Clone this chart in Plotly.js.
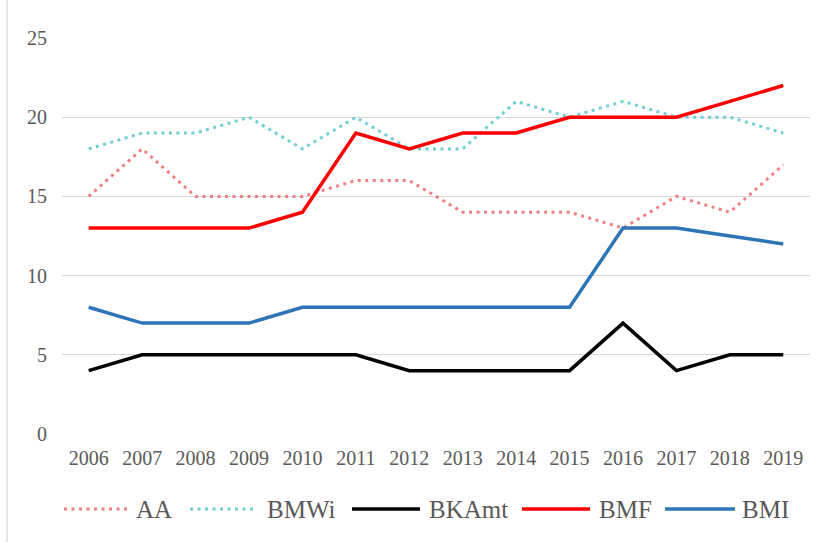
<!DOCTYPE html>
<html>
<head>
<meta charset="utf-8">
<script src="https://cdn.plot.ly/plotly-3.0.1.min.js"></script>
<style>html,body{margin:0;padding:0;background:#fff;}#chart{width:826px;height:542px;}</style>
</head>
<body>
<div id="chart"></div>
<script>
const years = ["2006","2007","2008","2009","2010","2011","2012","2013","2014","2015","2016","2017","2018","2019"];
const AA    = [15, 18, 15, 15, 15, 16, 16, 14, 14, 14, 13, 15, 14, 17];
const BMWi  = [18, 19, 19, 20, 18, 20, 18, 18, 21, 20, 21, 20, 20, 19];
const BKAmt = [4, 5, 5, 5, 5, 5, 4, 4, 4, 4, 7, 4, 5, 5];
const BMF   = [13, 13, 13, 13, 14, 19, 18, 19, 19, 20, 20, 20, 21, 22];
const BMI   = [8, 7, 7, 7, 8, 8, 8, 8, 8, 8, 13, 13, 12.5, 12];
const yTicks = [0, 5, 10, 15, 20, 25];

const FONT = "Liberation Serif";
const traces = [
  {name: "AA", y: AA, line: {color: "#F08080", width: 3, dash: "3px,4.5px"}},
  {name: "BMWi", y: BMWi, line: {color: "#6FCFD6", width: 3, dash: "3px,4.5px"}},
  {name: "BKAmt", y: BKAmt, line: {color: "#000000", width: 3.5}},
  {name: "BMF", y: BMF, line: {color: "#FF0000", width: 3.5}},
  {name: "BMI", y: BMI, line: {color: "#2E75B6", width: 3.5}}
].map(t => Object.assign({x: years, type: "scatter", mode: "lines", hoverinfo: "skip", showlegend: false}, t));

// manual legend (pixel positions converted to paper coords)
const L = 62, W = 748, B = 434, H = 396;
const px = v => (v - L) / W;
const legY = (B - 509) / H;
const legPos = [[64, 130, 134], [190, 256, 265], [352, 420, 427], [522, 590, 597], [665, 735, 740]];
const shapes = [{type: "line", xref: "paper", yref: "paper", x0: px(7), x1: px(7), y0: -0.3, y1: 1.2,
                 line: {color: "#d9d9d9", width: 1.3}}];
const annotations = [];
traces.forEach((t, i) => {
  const p = legPos[i];
  shapes.push({type: "line", xref: "paper", yref: "paper", x0: px(p[0]), x1: px(p[1]), y0: legY, y1: legY,
               line: {color: t.line.color, width: t.line.width, dash: t.line.dash || "solid"}});
  annotations.push({xref: "paper", yref: "paper", x: px(p[2]), y: legY, xanchor: "left", yanchor: "middle",
                    text: t.name, showarrow: false, font: {family: FONT, size: 25, color: "#595959"}});
});

const layout = {
  width: 826, height: 542,
  margin: {l: 62, r: 16, t: 38, b: 108},
  paper_bgcolor: "#ffffff", plot_bgcolor: "#ffffff",
  font: {family: FONT, color: "#595959", size: 20},
  showlegend: false,
  xaxis: {type: "category", range: [-0.5, 13.5], showgrid: false, showline: false, zeroline: false,
          ticks: "", ticklabelstandoff: 10, tickfont: {family: FONT, size: 20, color: "#595959"}},
  yaxis: {range: [0, 25], tickvals: yTicks, ticktext: yTicks.map(String), showgrid: true, gridcolor: "#d9d9d9",
          gridwidth: 1.3, zeroline: false, showline: false, ticks: "", ticklabelstandoff: 14,
          tickfont: {family: FONT, size: 20, color: "#595959"}},
  shapes: shapes,
  annotations: annotations
};

Plotly.newPlot("chart", traces, layout, {displayModeBar: false, staticPlot: true});
</script>
</body>
</html>
